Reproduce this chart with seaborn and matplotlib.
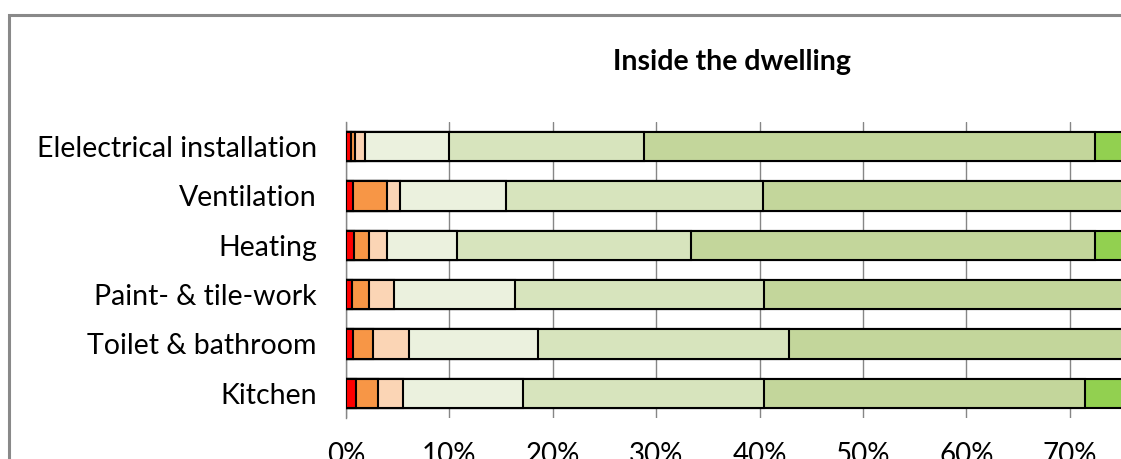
import numpy as np
import pandas as pd
import seaborn as sns
import matplotlib.pyplot as plt
from matplotlib.patches import Rectangle

# categories, top to bottom
categories = ['Elelectrical installation', 'Ventilation', 'Heating',
              'Paint- & tile-work', 'Toilet & bathroom', 'Kitchen']

# share of answers per rating level (percent), worst to best
very_poor = [0.45, 0.70, 0.77, 0.55, 0.65, 0.94]
poor = [0.42, 3.23, 1.49, 1.71, 1.99, 2.13]
fairly_poor = [0.97, 1.29, 1.74, 2.41, 3.45, 2.41]
neutral = [8.13, 10.28, 6.70, 11.63, 12.51, 11.62]
fairly_good = [18.83, 24.80, 22.70, 24.10, 24.20, 23.30]
good = [43.60, 47.70, 39.00, 47.60, 45.20, 31.10]
very_good = [27.60, 12.00, 27.60, 12.00, 12.00, 28.50]

levels = ['Very poor', 'Poor', 'Fairly poor', 'Neutral',
          'Fairly good', 'Good', 'Very good']
colors = ['#FF0000', '#F79646', '#FBD5B5', '#EBF1DE',
          '#D7E4BD', '#C3D69B', '#92D050']

df = pd.DataFrame({
    'Category': categories,
    'Very poor': very_poor,
    'Poor': poor,
    'Fairly poor': fairly_poor,
    'Neutral': neutral,
    'Fairly good': fairly_good,
    'Good': good,
    'Very good': very_good,
})
cum = df[levels].cumsum(axis=1)

sns.set_theme(style='white')
plt.rcParams['font.family'] = ['Lato', 'DejaVu Sans']

fig = plt.figure(figsize=(11.21, 4.59), dpi=100)
ax = fig.add_axes([346 / 1121, 41 / 459, 1034 / 1121, 296 / 459])

# stacked bars: draw cumulative totals, longest first
for lvl, col in reversed(list(zip(levels, colors))):
    sns.barplot(x=cum[lvl], y=df['Category'], orient='h', color=col,
                edgecolor='black', linewidth=1.5, width=0.59,
                saturation=1, ax=ax, zorder=3)

ax.set_xlim(0, 100)
ax.set_xticks(np.arange(0, 101, 10))
ax.set_xticklabels([f'{v}%' for v in range(0, 101, 10)])
ax.grid(axis='x', color='#868686', linewidth=1.0)
ax.grid(axis='y', visible=False)
ax.set_axisbelow(True)
for s in ['top', 'right', 'bottom']:
    ax.spines[s].set_visible(False)
ax.spines['left'].set_color('#868686')
ax.spines['left'].set_linewidth(1.0)
ax.tick_params(axis='x', length=0, pad=17, labelsize=20, colors='black')
ax.tick_params(axis='y', length=0, pad=21, labelsize=20.5, colors='black')
ax.set_xlabel('')
ax.set_ylabel('')

fig.text(732 / 1121, 1 - 62 / 459, 'Inside the dwelling', ha='center',
         va='center', fontsize=20.5, fontweight='bold', color='black')

# chart area border (continues past the crop)
fig.patches.append(Rectangle((8.5 / 1121, -1), 3, 1 + (459 - 15) / 459,
                             transform=fig.transFigure, fill=False,
                             edgecolor='#898989', linewidth=2.2))

fig.savefig('out.png', dpi=100)
